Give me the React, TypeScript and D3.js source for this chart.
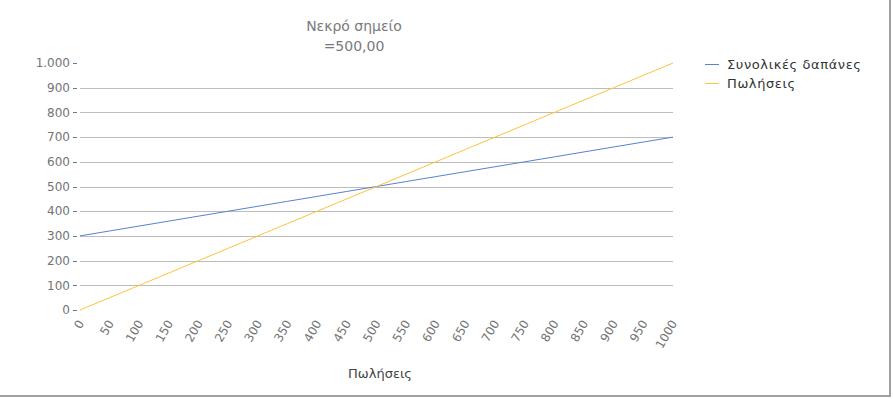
import React, { useEffect, useRef } from 'react';
import * as d3 from 'd3';

const quantities = [0, 50, 100, 150, 200, 250, 300, 350, 400, 450, 500, 550, 600, 650, 700, 750, 800, 850, 900, 950, 1000];
const totalCosts = [300, 320, 340, 360, 380, 400, 420, 440, 460, 480, 500, 520, 540, 560, 580, 600, 620, 640, 660, 680, 700];
const sales = [0, 50, 100, 150, 200, 250, 300, 350, 400, 450, 500, 550, 600, 650, 700, 750, 800, 850, 900, 950, 1000];
const yTicks = [0, 100, 200, 300, 400, 500, 600, 700, 800, 900, 1000];
const seriesNames = ['Συνολικές δαπάνες', 'Πωλήσεις'];
const seriesColors = ['#5b80cf', '#ffc23e'];
const titleLines = ['Νεκρό σημείο', '=500,00'];
const xTitle = 'Πωλήσεις';

const W = 893;
const H = 399;
const FONT = 'DejaVu Sans, Verdana, sans-serif';

const App: React.FC = () => {
  const ref = useRef<SVGSVGElement | null>(null);

  useEffect(() => {
    if (!ref.current) return;
    const svg = d3.select(ref.current);
    svg.selectAll('*').remove();

    const x = d3.scaleLinear().domain([0, 1000]).range([80, 673]);
    const y = d3.scaleLinear().domain([0, 1000]).range([310, 63]);
    const fmt = (v: number) => d3.format(',')(v).replace(/,/g, '.');

    // frame
    svg.append('rect').attr('x', 0).attr('y', 0).attr('width', W).attr('height', H).attr('fill', '#fff');
    svg.append('line').attr('x1', 890).attr('x2', 890).attr('y1', 0).attr('y2', 397)
      .attr('stroke', '#a0a0a0').attr('stroke-width', 2);
    svg.append('line').attr('x1', 0).attr('x2', 891).attr('y1', 396).attr('y2', 396)
      .attr('stroke', '#a0a0a0').attr('stroke-width', 2);

    // title
    svg.append('g').selectAll('text').data(titleLines).enter().append('text')
      .attr('x', 354).attr('y', (_, i) => 31 + i * 20)
      .attr('text-anchor', 'middle').attr('font-family', FONT).attr('font-size', 14)
      .attr('fill', '#7a7a7a').text((d) => d);

    // grid + y axis
    const gy = svg.append('g');
    gy.selectAll('line.grid').data(yTicks.filter((t) => t > 0 && t < 1000)).enter().append('line')
      .attr('x1', x(0)).attr('x2', x(1000)).attr('y1', (d) => Math.round(y(d)) + 0.5).attr('y2', (d) => Math.round(y(d)) + 0.5)
      .attr('stroke', '#bcbcbc');
    gy.selectAll('line.tick').data(yTicks).enter().append('line')
      .attr('x1', 73).attr('x2', 77).attr('y1', (d) => Math.round(y(d)) + 0.5).attr('y2', (d) => Math.round(y(d)) + 0.5)
      .attr('stroke', '#777');
    gy.selectAll('text').data(yTicks).enter().append('text')
      .attr('x', 70).attr('y', (d) => y(d)).attr('dy', '0.35em')
      .attr('text-anchor', 'end').attr('font-family', FONT).attr('font-size', 12)
      .attr('fill', '#747474').text((d) => fmt(d));

    // x axis labels
    svg.append('g').selectAll('text').data(quantities).enter().append('text')
      .attr('transform', (d) => `translate(${x(d) + 1},${321}) rotate(-60)`)
      .attr('text-anchor', 'end').attr('dy', '0.35em')
      .attr('font-family', FONT).attr('font-size', 12).attr('fill', '#747474')
      .text((d) => String(d));

    svg.append('text').attr('x', 380).attr('y', 378).attr('text-anchor', 'middle')
      .attr('font-family', FONT).attr('font-size', 13).attr('fill', '#444').text(xTitle);

    // lines
    const seriesData = [totalCosts, sales];
    const line = d3.line<number>().x((_, i) => x(quantities[i])).y((d) => y(d));
    seriesData.forEach((vals, i) => {
      svg.append('path').datum(vals).attr('d', line).attr('fill', 'none')
        .attr('stroke', seriesColors[i]).attr('stroke-width', 1);
    });

    // legend
    const lg = svg.append('g');
    seriesNames.forEach((name, i) => {
      const ly = 64 + i * 19;
      lg.append('line').attr('x1', 705).attr('x2', 719).attr('y1', ly + 0.5).attr('y2', ly + 0.5)
        .attr('stroke', seriesColors[i]).attr('stroke-width', 1);
      lg.append('text').attr('x', 727).attr('y', ly).attr('dy', '0.35em')
        .attr('font-family', FONT).attr('font-size', 13).attr('letter-spacing', 0.6)
        .attr('fill', '#333').text(name);
    });
  }, []);

  return (
    <div style={{ position: 'absolute', left: 0, top: 0 }}>
      <svg ref={ref} width={W} height={H} style={{ display: 'block' }}></svg>
    </div>
  );
};

export default App;
